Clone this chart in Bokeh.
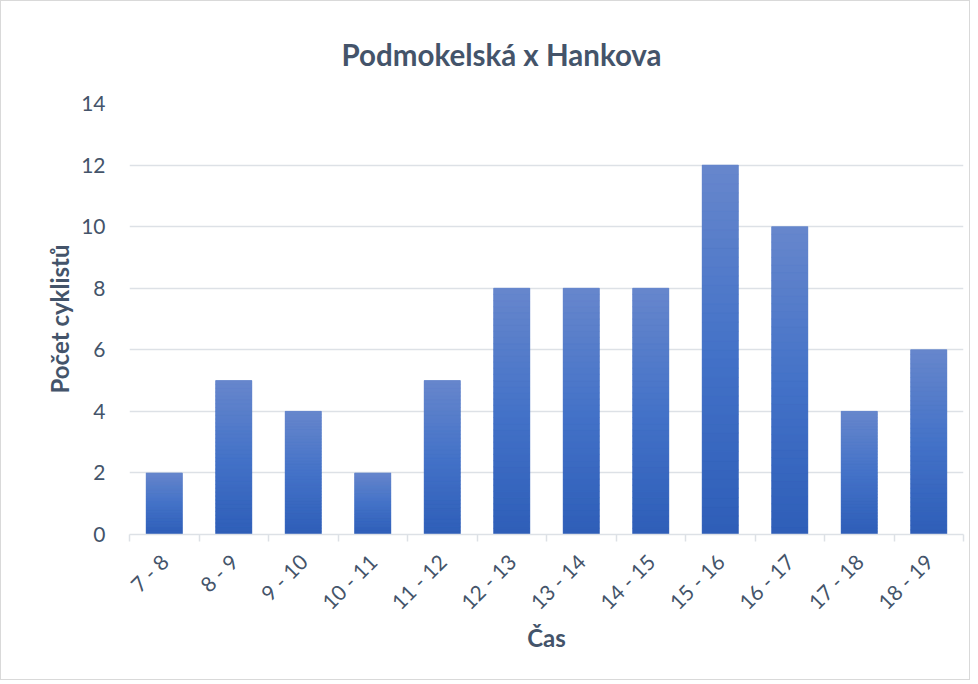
import numpy as np
from math import pi
from bokeh.plotting import figure
from bokeh.models import Range1d, FixedTicker, ColumnDataSource
from bokeh.embed import file_html
from bokeh.resources import INLINE

# ---- data ----
title_text = "Podmokelská x Hankova"
categories = ["7 - 8", "8 - 9", "9 - 10", "10 - 11", "11 - 12", "12 - 13",
              "13 - 14", "14 - 15", "15 - 16", "16 - 17", "17 - 18", "18 - 19"]
counts = [2, 5, 4, 2, 5, 8, 8, 8, 12, 10, 4, 6]
y_ticks = [0, 2, 4, 6, 8, 10, 12, 14]

TEXT = "#44546A"
GRID = "#DDE1E6"
FONT = "Lato"

# gradient stops (bottom -> mid -> top)
c_bot = np.array([46, 94, 184])
c_mid = np.array([68, 114, 200])
c_top = np.array([103, 135, 204])

def grad(f):
    if f < 0.5:
        c = c_bot + (c_mid - c_bot) * (f / 0.5)
    else:
        c = c_mid + (c_top - c_mid) * ((f - 0.5) / 0.5)
    return "#%02x%02x%02x" % tuple(int(round(v)) for v in c)

centers = [i + 0.5 for i in range(len(categories))]

p = figure(width=970, height=680, output_backend="svg", toolbar_location=None,
           x_range=Range1d(0, len(categories)), y_range=Range1d(0, 14),
           min_border_left=128, min_border_right=8, min_border_top=102,
           min_border_bottom=147, title=title_text)

# base bars from the data
src = ColumnDataSource(dict(x=centers, top=counts, cat=categories))
p.vbar(x="x", top="top", bottom=0, width=0.52, source=src,
       fill_color="#4472C4", line_color=None)

# gradient overlay slices derived from the same values
n = 40
gx, gb, gt, gc = [], [], [], []
for xc, v in zip(centers, counts):
    for k in range(n):
        gx.append(xc)
        gb.append(v * k / n)
        gt.append(v * (k + 1) / n)
        gc.append(grad((k + 0.5) / n))
p.vbar(x=gx, bottom=gb, top=gt, width=0.52, fill_color=gc, line_color=gc,
       line_width=0.6)

# title
p.title.align = "left"
p.title.offset = 212
p.title.text_font = FONT
p.title.text_font_size = "29.5px"
p.title.text_font_style = "bold"
p.title.text_color = TEXT
p.title.standoff = 63

# x axis
xa = p.xaxis[0]
xa.ticker = FixedTicker(ticks=centers, minor_ticks=list(range(len(categories) + 1)))
xa.major_label_overrides = {c: lab for c, lab in zip(centers, categories)}
xa.major_tick_line_color = None
xa.minor_tick_line_color = GRID
xa.minor_tick_line_width = 1.5
xa.minor_tick_out = 7
xa.minor_tick_in = 0
xa.axis_line_color = GRID
xa.axis_line_width = 1.5
xa.major_label_orientation = pi / 4
xa.major_label_text_font = FONT
xa.major_label_text_font_size = "21px"
xa.major_label_text_color = TEXT
xa.major_label_standoff = 16
xa.axis_label = "Čas"
xa.axis_label_text_font = FONT
xa.axis_label_text_font_size = "24px"
xa.axis_label_text_font_style = "bold"
xa.axis_label_text_color = TEXT
xa.axis_label_standoff = -3

# y axis
ya = p.yaxis[0]
ya.ticker = FixedTicker(ticks=y_ticks)
ya.axis_line_color = None
ya.major_tick_line_color = None
ya.minor_tick_line_color = None
ya.major_label_text_font = FONT
ya.major_label_text_font_size = "21px"
ya.major_label_text_color = TEXT
ya.major_label_standoff = 18
ya.axis_label = "Počet cyklistů"
ya.axis_label_text_font = FONT
ya.axis_label_text_font_size = "24px"
ya.axis_label_text_font_style = "bold"
ya.axis_label_text_color = TEXT
ya.axis_label_standoff = 4

p.xgrid.visible = False
p.ygrid.ticker = FixedTicker(ticks=y_ticks)
p.ygrid.grid_line_color = GRID
p.ygrid.grid_line_width = 1.5
p.outline_line_color = None
p.background_fill_color = "white"
p.border_fill_color = "white"
p.styles = {"border": "1px solid #D9D9D9", "box-sizing": "border-box"}

open("out.html", "w").write(file_html(p, INLINE))
